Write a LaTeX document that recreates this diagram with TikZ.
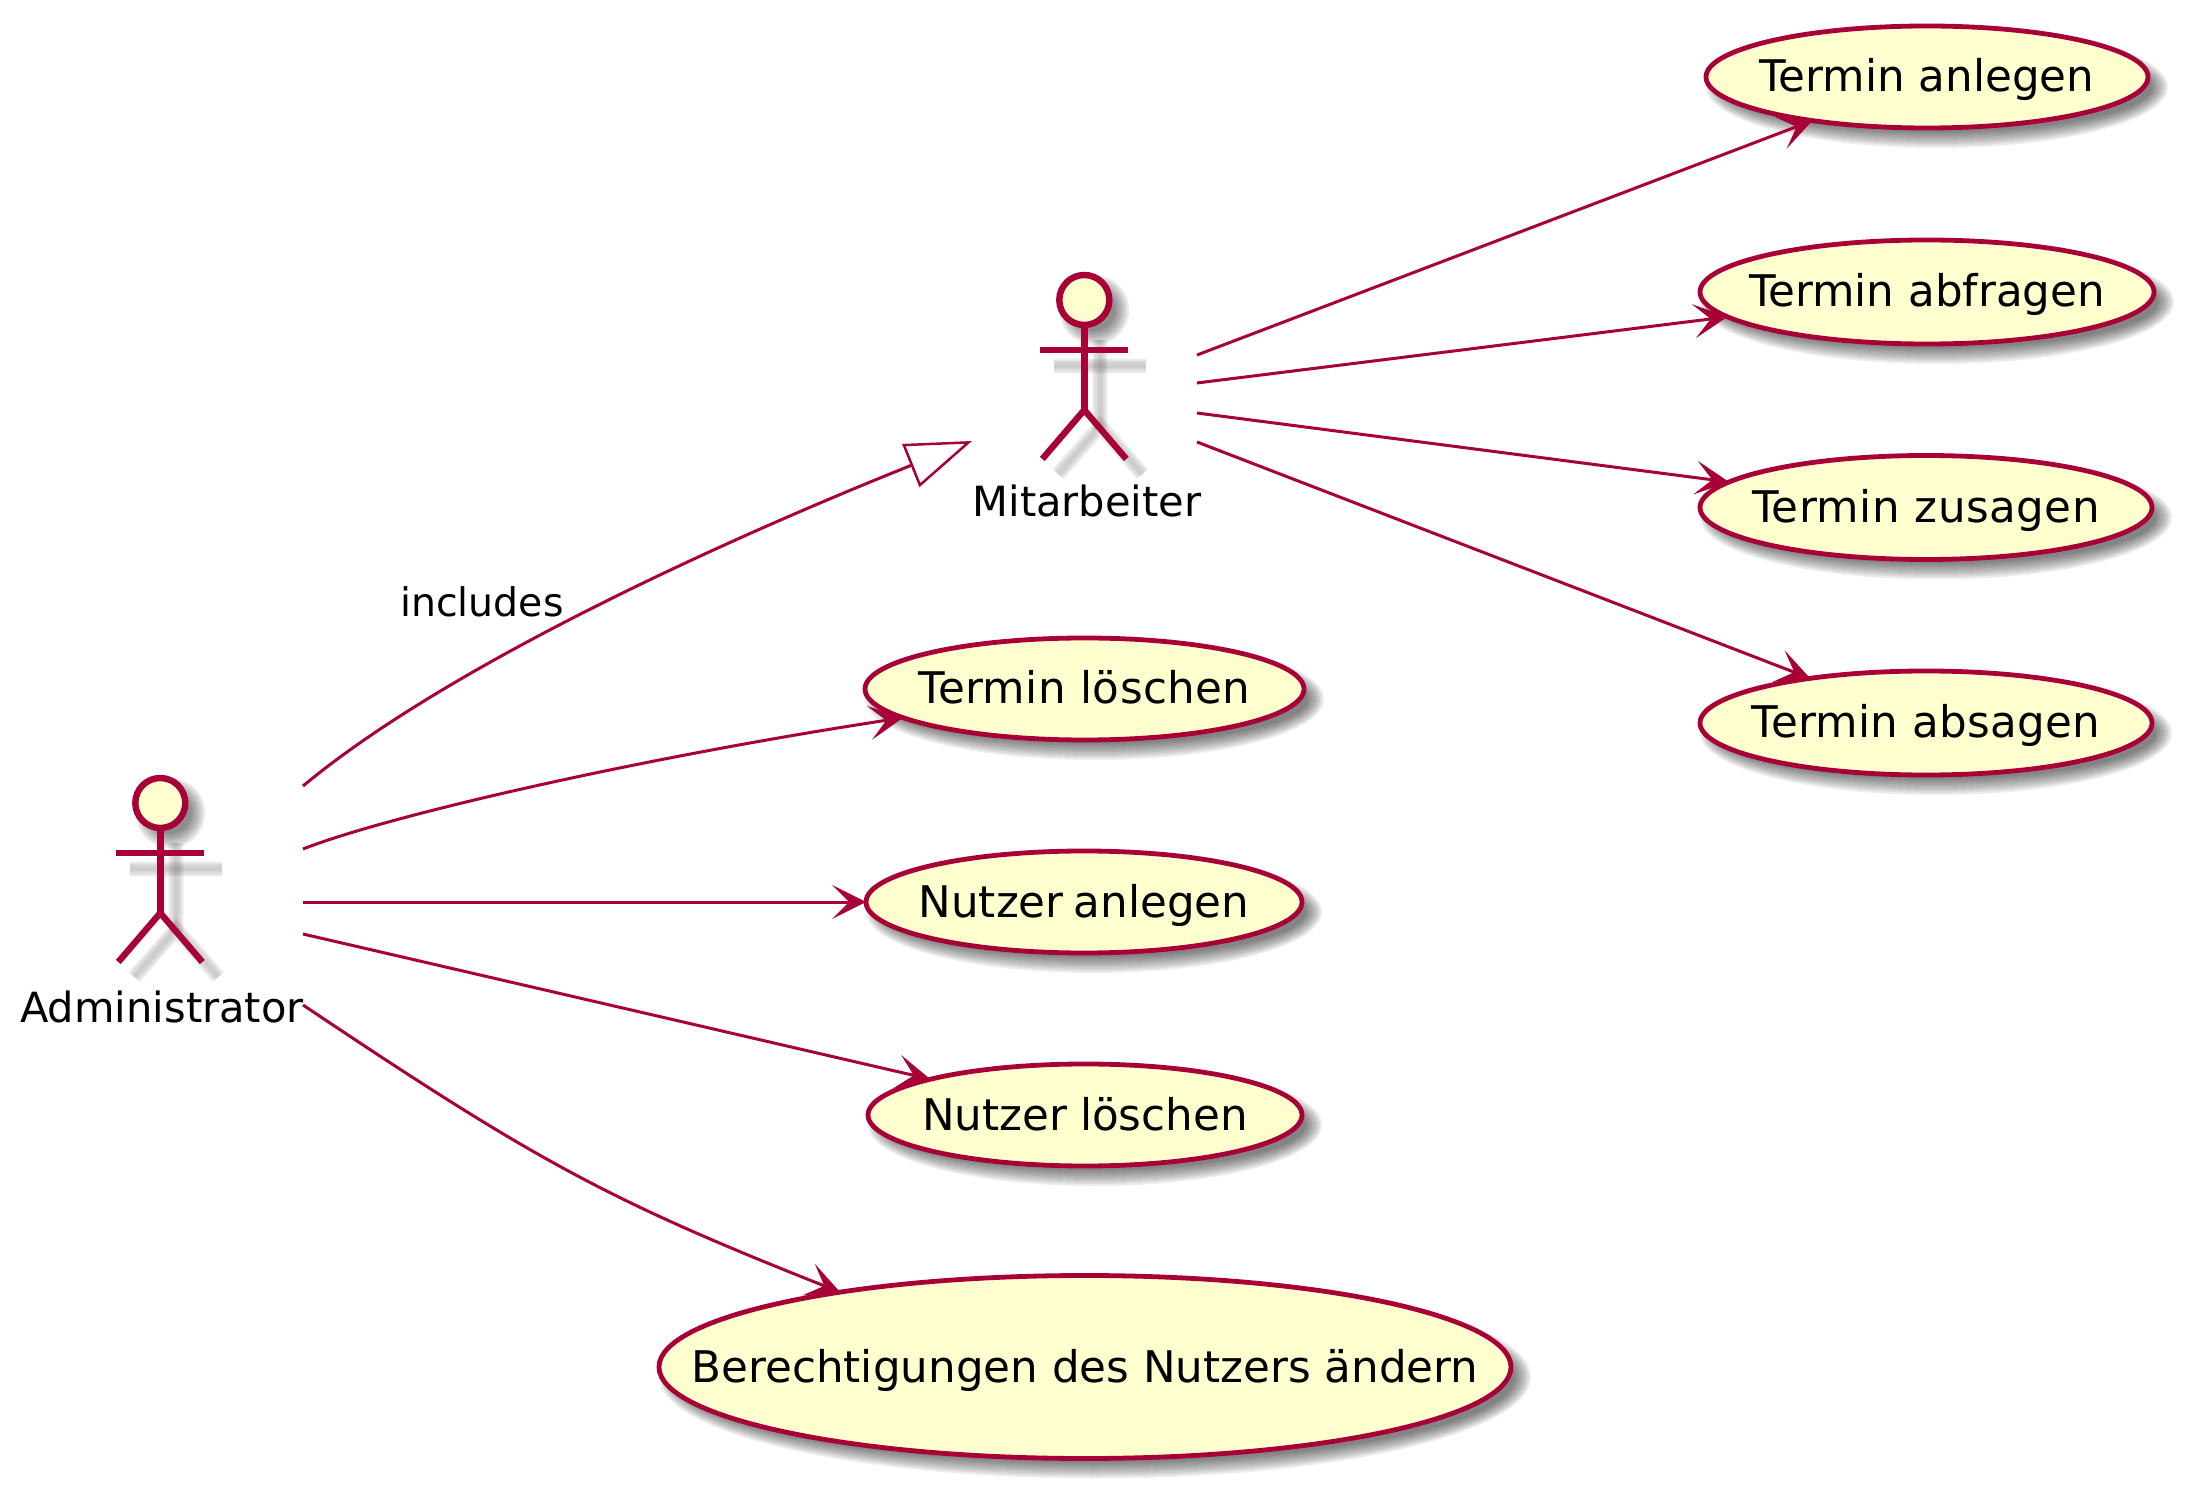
\documentclass[tikz,border=0pt]{standalone}
\usepackage{fontspec}
\setmainfont{DejaVu Sans}
\usetikzlibrary{shapes.geometric,arrows.meta}
\definecolor{pumlred}{HTML}{A80036}
\definecolor{pumlfill}{HTML}{FEFECE}
\pgfdeclarelayer{shad}
\pgfdeclarelayer{conn}
\pgfsetlayers{shad,conn,main}
\tikzset{
  uc/.style={ellipse,draw=pumlred,fill=pumlfill,line width=2.4pt,inner sep=0pt,outer sep=0pt,
    text height=20pt,text depth=5pt,font=\fontsize{21.8}{26}\selectfont,text=black},
  headnode/.style={circle,draw=pumlred,fill=pumlfill,line width=3.2pt,inner sep=0pt,outer sep=0pt,minimum size=25pt},
  limb/.style={draw=pumlred,line width=3.2pt},
  actorlabel/.style={anchor=base,inner sep=0pt,font=\fontsize{20.8}{24}\selectfont,text=black},
  edgelabel/.style={anchor=base,inner sep=0pt,font=\fontsize{19.7}{23}\selectfont,text=black},
  conn/.style={draw=pumlred,line width=1.5pt,-{Stealth[length=17pt,width=17pt,inset=8.5pt,line width=0pt]}},
  gen/.style={draw=pumlred,line width=1.5pt,-{Triangle[open,length=33pt,width=23pt,line width=1.25pt,fill=none]}},
}
\newcommand{\ucnode}[6]{%
  \node[uc,minimum width=#4pt,minimum height=#5pt] (#1) at (#2,#3) {\makebox[0pt]{#6}};
  \begin{pgfonlayer}{shad}
    \foreach \dd in {-6,-4,...,10}{\fill[black,opacity=.07] (#2+10,#3+10) ellipse [x radius=#4+\dd,y radius=#5+\dd];}
  \end{pgfonlayer}}
\newcommand{\shline}[1]{\foreach \ww in {2,3.5,5,6,7,8}{\draw[black,opacity=.035,line width=\ww pt] #1;}}
\newcommand{\actorfig}[3]{%
  \begin{scope}[shift={(#2,#3)}]
    \begin{pgfonlayer}{shad}
      \foreach \dd in {-6,-4,...,8}{\fill[black,opacity=.07] (10,10) circle [radius=27+\dd];}
      \shline{(16,40) -- (16,130)}
      \shline{(-30,66) -- (62,66)}
      \shline{(-26,174) -- (16,126) -- (58,174)}
    \end{pgfonlayer}
    \node[headnode] (#1) at (0,0) {};
    \draw[limb] (#1.south) -- (0,110);
    \draw[limb] (-44,50) -- (44,50);
    \draw[limb] (-42,159) -- (0,110) -- (42,159);
  \end{scope}}
\begin{document}
\begin{tikzpicture}[x=0.5pt,y=-0.5pt]
\useasboundingbox (0,0) rectangle (2185,1491);
\ucnode{tanlegen}{1927}{77}{221}{51}{Termin anlegen}
\ucnode{tabfragen}{1927}{292}{227}{52}{Termin abfragen}
\ucnode{tzusagen}{1926}{507.5}{226}{52}{\addfontfeatures{LetterSpace=1.2}Termin zusagen}
\ucnode{tabsagen}{1926}{723}{226}{52}{\addfontfeatures{LetterSpace=0.7}Termin absagen}
\ucnode{tloeschen}{1084.5}{689}{219.5}{51}{\addfontfeatures{LetterSpace=1.0}Termin löschen}
\ucnode{nanlegen}{1084}{902}{218}{51}{Nutzer\kern-1.8pt{} anlegen}
\ucnode{nloeschen}{1085}{1115}{217}{51}{Nutzer\kern-0.5pt{} löschen}
\ucnode{berecht}{1085}{1367}{426}{91.5}{Berechtigungen des Nutzers ändern}
\actorfig{mit}{1084.3}{300}
\actorfig{adm}{160.3}{803}
\node[actorlabel] (mitlabel) at (1087,517) {Mitarbeiter};
\node[actorlabel] (admlabel) at (162,1022) {Administrator};
\coordinate (m1) at (1197,355);
\coordinate (m2) at (1197,383);
\coordinate (m3) at (1197,413);
\coordinate (m4) at (1197,442);
\coordinate (a1) at (303,786);
\coordinate (a2) at (303,849);
\coordinate (a3) at (303,902);
\coordinate (a4) at (303,934);
\coordinate (a5) at (303,1005);
\coordinate (mtip) at (972,441);
\begin{pgfonlayer}{conn}
\draw[conn] (m1) -- (tanlegen);
\draw[conn] (m2) -- (tabfragen);
\draw[conn] (m3) -- (tzusagen);
\draw[conn] (m4) -- (tabsagen);
\draw[conn] (a2) .. controls (390,815) and (640,758) .. (tloeschen.189);
\draw[conn] (a3) -- (nanlegen);
\draw[conn] (a4) -- (nloeschen);
\draw[conn] (a5) .. controls (533,1159) and (605,1199) .. (berecht.163);
\draw[gen] (a1) .. controls (440,672) and (700,550) .. (mtip);
\end{pgfonlayer}
\node[edgelabel] (inc) at (482,617) {includes};
\end{tikzpicture}
\end{document}
